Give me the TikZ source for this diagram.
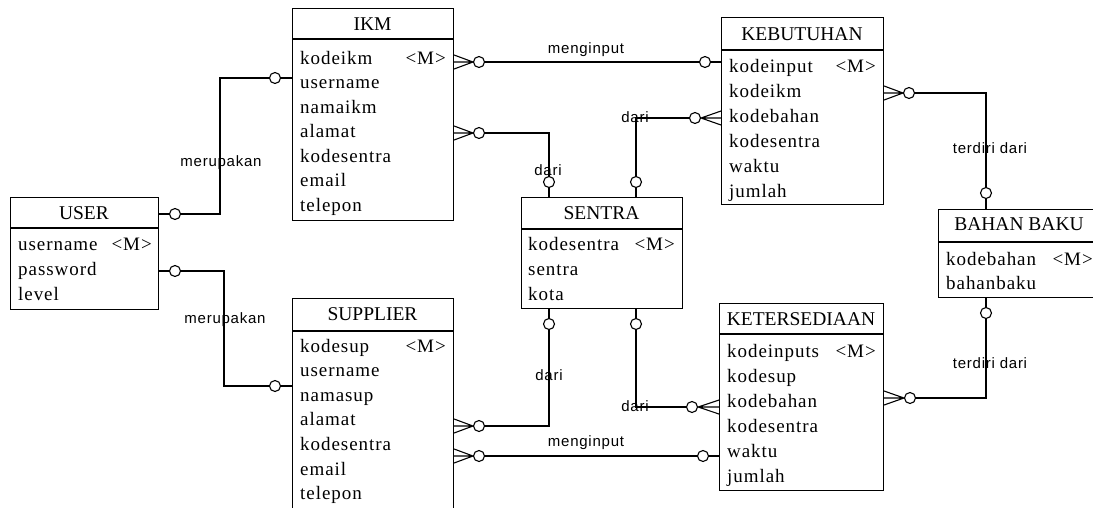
\documentclass[tikz,border=0pt]{standalone}
\usepackage{fontspec}
\setmainfont{Liberation Serif}
\newfontfamily\attrfont[LetterSpace=5]{Liberation Serif}
\newfontfamily\lblfont[LetterSpace=5]{Liberation Sans}
\usetikzlibrary{calc}
\tikzset{
  link/.style={line width=1.1pt},
  ent/.style={draw, line width=1.1pt, anchor=north west, inner sep=0pt, fill=white},
  ttl/.style={anchor=base, inner sep=0pt, font=\fontsize{19.5}{21}\selectfont},
  attr/.style={anchor=base west, inner sep=0pt, font=\attrfont\fontsize{19}{22}\selectfont},
  keym/.style={anchor=base east, inner sep=0pt, font=\attrfont\fontsize{19}{22}\selectfont},
  lbl/.style={anchor=base, inner sep=0pt, font=\lblfont\fontsize{15}{17}\selectfont},
  opt/.style={circle, draw, line width=1.1pt, fill=white, inner sep=0pt, minimum size=11pt},
}
\newcommand\crowR[2]{\draw[link] (#1.west) -- ($(#2.east |- #1)+(0,7)$) (#1.west) -- (#2.east |- #1) (#1.west) -- ($(#2.east |- #1)+(0,-7)$);}
\newcommand\crowL[2]{\draw[link] (#1.east) -- ($(#2.west |- #1)+(0,7)$) (#1.east) -- (#2.west |- #1) (#1.east) -- ($(#2.west |- #1)+(0,-7)$);}
\begin{document}
\begin{tikzpicture}[x=1pt,y=-1pt]
\useasboundingbox (0,0) rectangle (1093,507);
\fill[white] (0,0) rectangle (1093,507);

% ---------------- entities ----------------
% USER
\node[ent, minimum width=148pt, minimum height=112pt] (user) at (10,197) {};
\draw[link] (user.west |- 0,228) -- (user.east |- 0,228);
\node[ttl] (userT) at (84,219) {USER};
\node[attr] (userA1) at (18,250) {username};
\node[keym] (userK) at (152,250) {<M>};
\node[attr] (userA2) at (18,275) {password};
\node[attr] (userA3) at (18,300) {level};

% IKM
\node[ent, minimum width=161pt, minimum height=212pt] (ikm) at (292,8) {};
\draw[link] (ikm.west |- 0,39) -- (ikm.east |- 0,39);
\node[ttl] (ikmT) at (372.5,30) {IKM};
\node[attr] (ikmA1) at (300,64) {kodeikm};
\node[keym] (ikmK) at (446,64) {<M>};
\node[attr] (ikmA2) at (300,88.5) {username};
\node[attr] (ikmA3) at (300,113) {namaikm};
\node[attr] (ikmA4) at (300,137.5) {alamat};
\node[attr] (ikmA5) at (300,162) {kodesentra};
\node[attr] (ikmA6) at (300,186.5) {email};
\node[attr] (ikmA7) at (300,211) {telepon};

% SUPPLIER
\node[ent, minimum width=161pt, minimum height=230pt] (supplier) at (292,298) {};
\draw[link] (supplier.west |- 0,331) -- (supplier.east |- 0,331);
\node[ttl] (supT) at (372.5,320) {SUPPLIER};
\node[attr] (supA1) at (300,352) {kodesup};
\node[keym] (supK) at (446,352) {<M>};
\node[attr] (supA2) at (300,376.6) {username};
\node[attr] (supA3) at (300,401.2) {namasup};
\node[attr] (supA4) at (300,425.8) {alamat};
\node[attr] (supA5) at (300,450.4) {kodesentra};
\node[attr] (supA6) at (300,475) {email};
\node[attr] (supA7) at (300,499.6) {telepon};

% SENTRA
\node[ent, minimum width=161pt, minimum height=111pt] (sentra) at (521,197) {};
\draw[link] (sentra.west |- 0,229) -- (sentra.east |- 0,229);
\node[ttl] (senT) at (601.5,219) {SENTRA};
\node[attr] (senA1) at (528,250) {kodesentra};
\node[keym] (senK) at (675,250) {<M>};
\node[attr] (senA2) at (528,275) {sentra};
\node[attr] (senA3) at (528,300) {kota};

% KEBUTUHAN
\node[ent, minimum width=162pt, minimum height=187pt] (kebutuhan) at (721,17) {};
\draw[link] (kebutuhan.west |- 0,50) -- (kebutuhan.east |- 0,50);
\node[ttl] (kebT) at (802,40) {KEBUTUHAN};
\node[attr] (kebA1) at (729,72) {kodeinput};
\node[keym] (kebK) at (876,72) {<M>};
\node[attr] (kebA2) at (729,97) {kodeikm};
\node[attr] (kebA3) at (729,122) {kodebahan};
\node[attr] (kebA4) at (729,147) {kodesentra};
\node[attr] (kebA5) at (729,172) {waktu};
\node[attr] (kebA6) at (729,197) {jumlah};

% KETERSEDIAAN
\node[ent, minimum width=164pt, minimum height=187pt] (ketersediaan) at (719,303) {};
\draw[link] (ketersediaan.west |- 0,334) -- (ketersediaan.east |- 0,334);
\node[ttl] (ketT) at (801,325) {KETERSEDIAAN};
\node[attr] (ketA1) at (727,357) {kodeinputs};
\node[keym] (ketK) at (876,357) {<M>};
\node[attr] (ketA2) at (727,382) {kodesup};
\node[attr] (ketA3) at (727,407) {kodebahan};
\node[attr] (ketA4) at (727,432) {kodesentra};
\node[attr] (ketA5) at (727,457) {waktu};
\node[attr] (ketA6) at (727,482) {jumlah};

% BAHAN BAKU
\node[ent, minimum width=170pt, minimum height=88pt] (bahan) at (938,209) {};
\draw[link] (bahan.west |- 0,242) -- (bahan.east |- 0,242);
\node[ttl] (bahT) at (1019,230) {BAHAN BAKU};
\node[attr] (bahA1) at (946,265) {kodebahan};
\node[keym] (bahK) at (1093,265) {<M>};
\node[attr] (bahA2) at (946,289) {bahanbaku};

% ---------------- relationships ----------------
% 1 USER - IKM (merupakan)
\node[opt] (o1a) at (175,214) {};
\node[opt] (o1b) at (275,78) {};
\coordinate (k1) at (220,78);
\draw[link] (user.east |- o1a) -- (o1a);
\draw[link] (o1a) -| (k1) -- (o1b);
\draw[link] (o1b) -- (ikm.west |- o1b);
\node[lbl] (l1) at (221,166) {merupakan};

% 2 USER - SUPPLIER (merupakan)
\node[opt] (o2a) at (175,271) {};
\node[opt] (o2b) at (275,386) {};
\coordinate (k2) at (224,386);
\draw[link] (user.east |- o2a) -- (o2a);
\draw[link] (o2a) -| (k2) -- (o2b);
\draw[link] (o2b) -- (supplier.west |- o2b);
\node[lbl] (l2) at (225,323) {merupakan};

% 3 IKM - KEBUTUHAN (menginput)
\node[opt] (o3a) at (479,62) {};
\node[opt] (o3b) at (705,62) {};
\crowR{o3a}{ikm}
\draw[link] (o3a) -- (o3b);
\draw[link] (o3b) -- (kebutuhan.west |- o3b);
\node[lbl] (l3) at (586,53) {menginput};

% 4 IKM - SENTRA (dari)
\node[opt] (o4a) at (479,133) {};
\node[opt] (o4b) at (549,182) {};
\coordinate (k4) at (549,133);
\crowR{o4a}{ikm}
\draw[link] (o4a) -- (k4) -- (o4b);
\draw[link] (o4b) -- (sentra.north -| o4b);
\node[lbl] (l4) at (548,175) {dari};

% 5 SENTRA - KEBUTUHAN (dari)
\node[opt] (o5a) at (636,182) {};
\node[opt] (o5b) at (695,118) {};
\coordinate (k5) at (636,118);
\crowL{o5b}{kebutuhan}
\draw[link] (sentra.north -| o5a) -- (o5a);
\draw[link] (o5a) -- (k5) -- (o5b);
\node[lbl] (l5) at (635,122.5) {dari};

% 6 SENTRA - SUPPLIER (dari)
\node[opt] (o6a) at (549,324) {};
\node[opt] (o6b) at (479,426) {};
\coordinate (k6) at (549,426);
\crowR{o6b}{supplier}
\draw[link] (sentra.south -| o6a) -- (o6a);
\draw[link] (o6a) -- (k6) -- (o6b);
\node[lbl] (l6) at (549,380) {dari};

% 7 SENTRA - KETERSEDIAAN (dari)
\node[opt] (o7a) at (636,324) {};
\node[opt] (o7b) at (692,407) {};
\coordinate (k7) at (636,407);
\crowL{o7b}{ketersediaan}
\draw[link] (sentra.south -| o7a) -- (o7a);
\draw[link] (o7a) -- (k7) -- (o7b);
\node[lbl] (l7) at (635,411.5) {dari};

% 8 SUPPLIER - KETERSEDIAAN (menginput)
\node[opt] (o8a) at (479,456) {};
\node[opt] (o8b) at (703,456) {};
\crowR{o8a}{supplier}
\draw[link] (o8a) -- (o8b);
\draw[link] (o8b) -- (ketersediaan.west |- o8b);
\node[lbl] (l8) at (586,446) {menginput};

% 9 KEBUTUHAN - BAHAN BAKU (terdiri dari)
\node[opt] (o9a) at (909,93) {};
\node[opt] (o9b) at (986,193) {};
\coordinate (k9) at (986,93);
\crowR{o9a}{kebutuhan}
\draw[link] (o9a) -- (k9) -- (o9b);
\draw[link] (o9b) -- (bahan.north -| o9b);
\node[lbl] (l9) at (990,153) {terdiri dari};

% 10 KETERSEDIAAN - BAHAN BAKU (terdiri dari)
\node[opt] (o10a) at (910,398) {};
\node[opt] (o10b) at (986,313) {};
\coordinate (k10) at (986,398);
\crowR{o10a}{ketersediaan}
\draw[link] (o10a) -- (k10) -- (o10b);
\draw[link] (o10b) -- (bahan.south -| o10b);
\node[lbl] (l10) at (990,368) {terdiri dari};
\end{tikzpicture}
\end{document}
